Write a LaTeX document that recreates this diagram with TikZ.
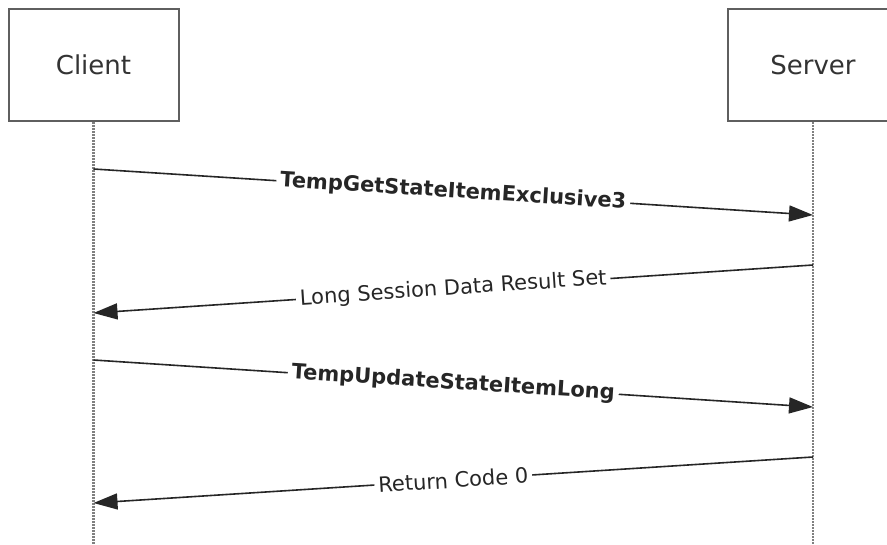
\documentclass[tikz,border=0pt]{standalone}
\usepackage{fontspec}
\setmainfont{DejaVu Sans}
\usetikzlibrary{arrows.meta}
\definecolor{boxgray}{RGB}{95,95,95}
\definecolor{textgray}{RGB}{51,51,51}
\tikzset{
    actor/.style={draw=boxgray, line width=2pt, fill=white, minimum width=170pt,
        minimum height=112pt, text=textgray, font=\fontsize{26}{30}\selectfont},
    lifeline/.style={draw=gray, line width=2.5pt, dash pattern=on 1.5pt off 1.5pt},
    msg/.style={draw=black!85, line width=1.6pt, -{Triangle[length=24pt,width=16pt]}},
    lbl/.style={fill=white, sloped, inner sep=4pt, text=black!85, font=\fontsize{21}{24}\selectfont},
}
\begin{document}
\begin{tikzpicture}[x=1pt,y=-1pt]
    \clip (0,0) rectangle (887,544);
    \node[actor] (client) at (93.5,65) {Client};
    \node[actor] (server) at (813,65) {Server};
    \coordinate (clientend) at (93.5,544);
    \coordinate (serverend) at (813,544);
    \path[lifeline] (client.south) edge (clientend);
    \path[lifeline] (server.south) edge (serverend);

    \coordinate (c1) at (93.5,169);
    \coordinate (s1) at (813,215);
    \coordinate (s2) at (813,265);
    \coordinate (c2) at (93.5,313);
    \coordinate (c3) at (93.5,360);
    \coordinate (s3) at (813,407);
    \coordinate (s4) at (813,457);
    \coordinate (c4) at (93.5,503);

    \draw[msg] (c1) -- node[lbl] {\bfseries TempGetStateItemExclusive3} (s1);
    \draw[msg] (s2) -- node[lbl] {Long Session Data Result Set} (c2);
    \draw[msg] (c3) -- node[lbl] {\bfseries TempUpdateStateItemLong} (s3);
    \draw[msg] (s4) -- node[lbl] {Return Code 0} (c4);
\end{tikzpicture}
\end{document}
